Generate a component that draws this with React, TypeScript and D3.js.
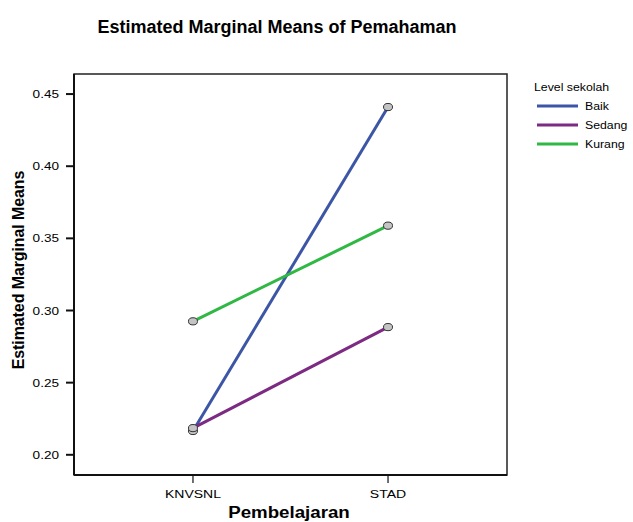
import React from "react";
import * as d3 from "d3";

const categories = ["KNVSNL", "STAD"];
const seriesNames = ["Baik", "Sedang", "Kurang"];
const baik = [0.2165, 0.441];
const sedang = [0.2185, 0.2885];
const kurang = [0.2925, 0.3588];
const yTicks = [0.2, 0.25, 0.3, 0.35, 0.4, 0.45];
const colors = ["#3c55a5", "#7c2a82", "#30b845"];

function SText(props: {
  x: number;
  y: number;
  sx?: number;
  size: number;
  anchor?: string;
  bold?: boolean;
  children: React.ReactNode;
}) {
  const { x, y, sx = 1, size, anchor = "start", bold, children } = props;
  return (
    <text
      transform={`translate(${x},${y}) scale(${sx},1)`}
      textAnchor={anchor}
      fontSize={size}
      fontWeight={bold ? "bold" : "normal"}
    >
      {children}
    </text>
  );
}

export default function App() {
  const W = 633, H = 522;
  const L = 74, R = 507, T = 74, B = 475;
  const x = d3.scalePoint<string>().domain(categories).range([L, R]).padding(0.61);
  const y = d3.scaleLinear().domain([0.186, 0.4639]).range([B, T]);
  const series = [baik, sedang, kurang];
  const line = d3.line<number>().x((_, i) => x(categories[i])!).y((d) => y(d));
  const font = "Liberation Sans, Arial, sans-serif";
  return (
    <svg width={W} height={H} style={{ position: "absolute", left: 0, top: 0 }} fontFamily={font}>
      <rect x={0} y={0} width={W} height={H} fill="#fff" />
      <SText x={277} y={33} size={18} anchor="middle" bold>
        Estimated Marginal Means of Pemahaman
      </SText>
      <rect x={L} y={T} width={R - L} height={B - T} fill="none" stroke="#222" strokeWidth={1.5} />
      <line x1={L} x2={L} y1={T} y2={B} stroke="#111" strokeWidth={2} />
      <line x1={L} x2={R} y1={B} y2={B} stroke="#111" strokeWidth={2} />
      {yTicks.map((t) => (
        <g key={t}>
          <line x1={L - 8} x2={L} y1={y(t)} y2={y(t)} stroke="#111" strokeWidth={2} />
          <SText x={59} y={y(t) + 4} size={11.5} sx={1.18} anchor="end">
            {d3.format(".2f")(t)}
          </SText>
        </g>
      ))}
      {categories.map((c) => (
        <g key={c}>
          <line x1={x(c)} x2={x(c)} y1={B} y2={B + 8} stroke="#111" strokeWidth={1.2} />
          <SText x={x(c)!} y={498} size={11.5} sx={1.22} anchor="middle">
            {c}
          </SText>
        </g>
      ))}
      <SText x={289} y={518} size={17} sx={1.1} anchor="middle" bold>
        Pembelajaran
      </SText>
      <text
        transform={`translate(24,270) rotate(-90)`}
        textAnchor="middle"
        fontSize={16}
        fontWeight="bold"
        letterSpacing={-0.1}
      >
        Estimated Marginal Means
      </text>
      {series.map((s, i) => (
        <path key={i} d={line(s)!} fill="none" stroke={colors[i]} strokeWidth={3} />
      ))}
      {series.map((s, i) =>
        s.map((v, j) => (
          <ellipse
            key={`${i}-${j}`}
            cx={x(categories[j])}
            cy={y(v)}
            rx={4.5}
            ry={3.6}
            fill="#c4c4c4"
            stroke="#333"
            strokeWidth={1}
          />
        ))
      )}
      <SText x={534} y={91} size={11.5} sx={1.07}>
        Level sekolah
      </SText>
      {seriesNames.map((n, i) => (
        <g key={n}>
          <line x1={537} x2={578} y1={106 + i * 19} y2={106 + i * 19} stroke={colors[i]} strokeWidth={3} />
          <SText x={585} y={106 + i * 19 + 4} size={11.5} sx={1.07}>
            {n}
          </SText>
        </g>
      ))}
    </svg>
  );
}
